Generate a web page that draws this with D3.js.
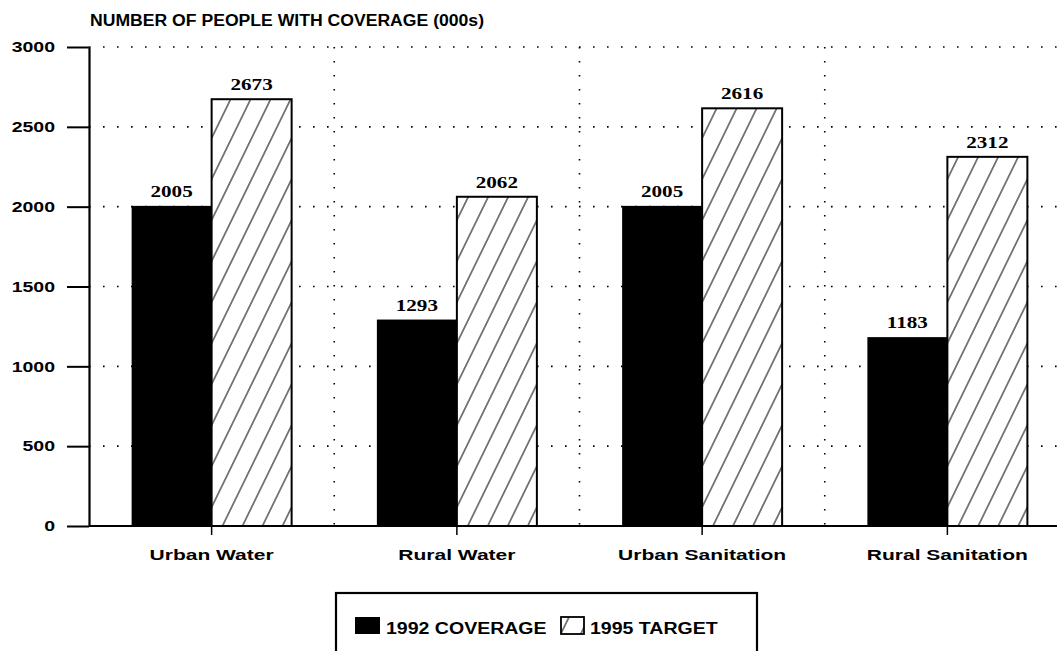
<!DOCTYPE html>
<html>
<head>
<meta charset="utf-8">
<script src="https://cdn.jsdelivr.net/npm/d3@7"></script>
<style>
  body { margin: 0; background: #fff; }
  svg { display: block; }
</style>
</head>
<body>
<svg id="chart" width="1057" height="651"></svg>
<script>
// donnees
const categories = ['Urban Water', 'Rural Water', 'Urban Sanitation', 'Rural Sanitation'];
const coverage1992 = [2005, 1293, 2005, 1183];
const target1995 = [2673, 2062, 2616, 2312];
const yTicks = [0, 500, 1000, 1500, 2000, 2500, 3000];
const seriesNames = ['1992 COVERAGE', '1995 TARGET'];
const titre = 'NUMBER OF PEOPLE WITH COVERAGE (000s)';

var largeur = 1057, hauteur = 651;
var marge = {haut: 47, droite: 0, bas: 125, gauche: 89};
const sans = '"Liberation Sans", Arial, sans-serif';
const serif = '"Liberation Serif", "Times New Roman", serif';

const svg = d3.select('#chart');

// motif hachure "/"
const defs = svg.append('defs');
const pat = defs.append('pattern')
    .attr('id', 'hachure')
    .attr('patternUnits', 'userSpaceOnUse')
    .attr('width', 20).attr('height', 20)
    .attr('patternTransform', 'skewX(-26)');
pat.append('line')
    .attr('x1', 10).attr('y1', 0).attr('x2', 10).attr('y2', 20)
    .attr('stroke', '#000').attr('stroke-width', 1.1);

const y = d3.scaleLinear().domain([0, 3000]).range([526, marge.haut]);
const x0 = d3.scaleBand().domain(categories).range([marge.gauche, 1070]).padding(0);
const bw = x0.bandwidth();
const x1 = d3.scaleBand().domain([0, 1]).range([(bw - 160) / 2, (bw + 160) / 2]).padding(0);

// etirer le texte (police large)
function etirer(sel, facteur) {
    sel.each(function() {
        const w = this.getComputedTextLength();
        d3.select(this).attr('textLength', w * facteur).attr('lengthAdjust', 'spacingAndGlyphs');
    });
}

// grille pointillee
svg.append('g').selectAll('line.h')
    .data(yTicks.filter(d => d > 0)).enter().append('line')
    .attr('x1', marge.gauche).attr('x2', largeur)
    .attr('y1', d => y(d)).attr('y2', d => y(d))
    .attr('stroke', '#000').attr('stroke-width', 1.6)
    .attr('stroke-dasharray', '1.6,12.4');

svg.append('g').selectAll('line.v')
    .data(categories.slice(1)).enter().append('line')
    .attr('x1', d => x0(d)).attr('x2', d => x0(d))
    .attr('y1', y(3000)).attr('y2', y(0))
    .attr('stroke', '#000').attr('stroke-width', 1.6)
    .attr('stroke-dasharray', '1.6,12.4');

// barres
const groupes = svg.append('g').selectAll('g')
    .data(categories).enter().append('g')
    .attr('transform', d => `translate(${x0(d)},0)`);

groupes.append('rect')
    .attr('x', x1(0)).attr('width', x1.bandwidth())
    .attr('y', (d, i) => y(coverage1992[i]))
    .attr('height', (d, i) => y(0) - y(coverage1992[i]))
    .attr('fill', '#000');

groupes.append('rect')
    .attr('x', x1(1)).attr('width', x1.bandwidth())
    .attr('y', (d, i) => y(target1995[i]))
    .attr('height', (d, i) => y(0) - y(target1995[i]))
    .attr('fill', '#fff');
groupes.append('rect')
    .attr('x', x1(1)).attr('width', x1.bandwidth())
    .attr('y', (d, i) => y(target1995[i]))
    .attr('height', (d, i) => y(0) - y(target1995[i]))
    .attr('fill', 'url(#hachure)')
    .attr('stroke', '#000').attr('stroke-width', 2);

// valeurs
groupes.append('text')
    .attr('x', x1(0) + x1.bandwidth() / 2)
    .attr('y', (d, i) => y(coverage1992[i]) - 9)
    .attr('text-anchor', 'middle')
    .style('font', `bold 16px ${serif}`)
    .text((d, i) => coverage1992[i])
    .call(etirer, 1.32);
groupes.append('text')
    .attr('x', x1(1) + x1.bandwidth() / 2)
    .attr('y', (d, i) => y(target1995[i]) - 9)
    .attr('text-anchor', 'middle')
    .style('font', `bold 16px ${serif}`)
    .text((d, i) => target1995[i])
    .call(etirer, 1.32);

// axe Y
const axeY = svg.append('g')
    .attr('transform', `translate(${marge.gauche},0)`)
    .call(d3.axisLeft(y).tickValues(yTicks).tickFormat(d3.format('d'))
        .tickSize(22).tickPadding(12).tickSizeOuter(0));
axeY.select('.domain').attr('stroke-width', 2.2);
axeY.selectAll('.tick line').attr('stroke-width', 2);
axeY.selectAll('.tick text')
    .style('font', `bold 15px ${sans}`).attr('fill', '#000')
    .call(etirer, 1.3);

// axe X
const axeX = svg.append('g')
    .attr('transform', `translate(0,${y(0)})`);
axeX.append('line')
    .attr('x1', marge.gauche).attr('x2', largeur)
    .attr('stroke', '#000').attr('stroke-width', 2.2);
axeX.selectAll('line.tick')
    .data(categories).enter().append('line')
    .attr('x1', d => x0(d) + bw / 2).attr('x2', d => x0(d) + bw / 2)
    .attr('y1', 0).attr('y2', 9)
    .attr('stroke', '#000').attr('stroke-width', 1.5);
axeX.selectAll('text')
    .data(categories).enter().append('text')
    .attr('x', d => x0(d) + bw / 2)
    .attr('y', 34)
    .attr('text-anchor', 'middle')
    .style('font', `bold 14px ${sans}`)
    .text(d => d)
    .call(etirer, 1.5);

// titre
svg.append('text')
    .attr('x', 90).attr('y', 26)
    .style('font', `bold 16px ${sans}`)
    .attr('textLength', 394).attr('lengthAdjust', 'spacingAndGlyphs')
    .text(titre);

// legende
const leg = svg.append('g');
leg.append('rect')
    .attr('x', 336).attr('y', 593).attr('width', 421).attr('height', 80)
    .attr('fill', '#fff').attr('stroke', '#000').attr('stroke-width', 2.2);
leg.append('rect')
    .attr('x', 355).attr('y', 617).attr('width', 25).attr('height', 17)
    .attr('fill', '#000');
leg.append('text')
    .attr('x', 386).attr('y', 634)
    .style('font', `bold 16px ${sans}`)
    .text(seriesNames[0])
    .call(etirer, 1.22);
leg.append('rect')
    .attr('x', 561).attr('y', 617).attr('width', 23).attr('height', 17)
    .attr('fill', 'url(#hachure)')
    .attr('stroke', '#000').attr('stroke-width', 1.8);
leg.append('text')
    .attr('x', 590).attr('y', 634)
    .style('font', `bold 16px ${sans}`)
    .text(seriesNames[1])
    .call(etirer, 1.22);
</script>
</body>
</html>
